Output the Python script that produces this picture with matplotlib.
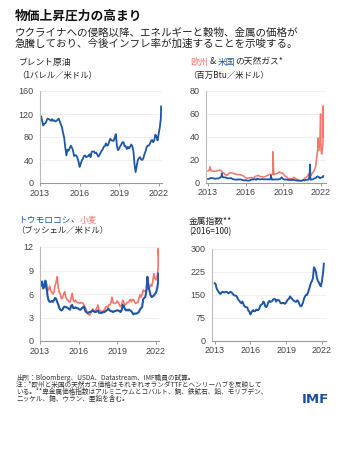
import numpy as np
import pandas as pd
import matplotlib
matplotlib.use("Agg")
import matplotlib.pyplot as plt

W, H = 346, 458
JP = ['Noto Sans CJK JP', 'DejaVu Sans']
NUM = ['Liberation Sans', 'Noto Sans CJK JP', 'DejaVu Sans']
plt.rcParams['font.family'] = JP

BLUE = '#1f56a5'
RED = '#f3766b'
TXT = '#222222'
TICK = '#444444'

# ---------------- data (monthly, 2013-01 .. 2022-03) ----------------
months = pd.date_range('2013-01-01', '2022-03-01', freq='MS')

brent = [113, 116, 108, 100, 103, 104, 108, 112, 111, 110, 108, 111,
         108, 109, 107, 108, 110, 112, 107, 102, 97, 87, 79, 62,
         48, 58, 56, 60, 65, 62, 57, 47, 48, 48, 44, 38,
         28, 33, 39, 42, 47, 48, 45, 46, 47, 50, 45, 54,
         55, 55, 52, 53, 50, 46, 48, 52, 56, 58, 63, 64,
         69, 65, 66, 72, 77, 74, 74, 73, 79, 85, 65, 57,
         60, 64, 67, 71, 71, 64, 64, 59, 63, 60, 63, 67,
         64, 55, 33, 19, 29, 40, 43, 45, 41, 40, 43, 50,
         55, 62, 65, 65, 68, 73, 75, 71, 74, 84, 81, 74,
         86, 97, 112]
brent_extra_dates = ['2022-03-08']
brent_extra = [133]

gas_eu = [10.2, 10.5, 14.0, 10.3, 10.2, 10.1, 10.0, 10.0, 10.1, 10.5, 10.8, 10.9,
          10.8, 10.0, 9.0, 8.5, 7.5, 7.0, 6.5, 6.8, 8.3, 8.5, 8.8, 8.6,
          8.0, 8.0, 7.7, 7.3, 7.2, 7.1, 7.2, 6.8, 6.6, 6.4, 5.8, 5.0,
          4.5, 3.8, 4.1, 4.2, 4.3, 4.5, 4.3, 4.0, 4.0, 5.3, 5.8, 6.0,
          6.4, 6.0, 5.2, 5.3, 5.2, 5.0, 5.2, 5.5, 6.0, 6.4, 6.9, 7.3,
          7.0, 7.3, 8.0, 7.0, 7.7, 7.7, 7.8, 8.5, 9.5, 9.0, 8.3, 8.5,
          7.5, 6.5, 5.5, 5.0, 4.3, 3.6, 3.6, 3.3, 3.5, 3.8, 4.7, 4.0,
          3.7, 3.0, 2.8, 2.2, 1.8, 1.9, 1.8, 2.8, 3.3, 4.5, 4.8, 5.7,
          7.5, 5.8, 6.2, 7.0, 8.8, 9.6, 11.9, 14.5, 22.5, 30.0, 28.0, 37.0,
          28.0, 27.0, 35.0]
gas_eu_extra_dates = ['2018-02-26', '2018-03-02', '2021-10-06', '2021-12-21',
                      '2022-01-20', '2022-03-07', '2022-03-10']
gas_eu_extra = [7.5, 27.0, 39.0, 60.0, 25.0, 67.0, 40.0]

gas_us = [3.3, 3.3, 3.8, 4.2, 4.0, 3.8, 3.6, 3.4, 3.6, 3.7, 3.6, 4.2,
          4.7, 6.0, 4.9, 4.7, 4.6, 4.6, 4.0, 3.9, 3.9, 3.8, 4.1, 3.5,
          3.0, 2.9, 2.8, 2.6, 2.8, 2.8, 2.8, 2.8, 2.7, 2.3, 2.1, 1.9,
          2.3, 2.0, 1.7, 1.9, 1.9, 2.6, 2.8, 2.8, 3.0, 3.0, 2.5, 3.6,
          3.3, 2.9, 2.9, 3.1, 3.2, 3.0, 3.0, 2.9, 3.0, 2.9, 3.0, 2.8,
          3.9, 2.7, 2.7, 2.8, 2.8, 2.9, 2.8, 2.9, 3.0, 3.3, 4.1, 4.0,
          3.1, 2.7, 2.9, 2.6, 2.6, 2.4, 2.4, 2.2, 2.6, 2.3, 2.6, 2.2,
          2.0, 1.9, 1.8, 1.7, 1.8, 1.6, 1.8, 2.3, 1.9, 2.4, 2.6, 2.6,
          2.7, 5.4, 2.6, 2.7, 2.9, 3.3, 3.9, 4.1, 5.2, 5.5, 5.0, 3.8,
          4.4, 4.7, 4.9]
gas_us_extra_dates = ['2014-02-06', '2018-01-03', '2018-11-15', '2021-02-17', '2022-03-08']
gas_us_extra = [8.0, 6.2, 4.7, 16.0, 5.8]

corn = [7.3, 7.1, 7.6, 6.7, 6.9, 7.7, 7.2, 5.8, 5.2, 5.0, 5.0, 5.1,
        5.0, 5.2, 5.5, 5.4, 5.0, 4.7, 4.2, 4.0, 3.9, 4.0, 4.3, 4.4,
        4.3, 4.3, 4.2, 4.1, 4.0, 4.5, 4.6, 4.2, 4.2, 4.3, 4.2, 4.2,
        4.1, 4.0, 4.0, 4.2, 4.3, 4.4, 3.9, 3.7, 3.6, 3.6, 3.7, 3.7,
        3.8, 3.9, 3.8, 3.7, 3.7, 3.8, 3.9, 3.6, 3.6, 3.6, 3.6, 3.7,
        3.7, 3.8, 3.9, 4.0, 4.1, 3.9, 3.8, 3.8, 3.7, 3.8, 3.8, 3.9,
        3.9, 3.9, 3.8, 3.7, 3.9, 4.6, 4.5, 4.1, 3.9, 4.0, 3.9, 4.0,
        3.9, 3.8, 3.6, 3.4, 3.5, 3.5, 3.5, 3.6, 3.7, 4.0, 4.2, 4.3,
        5.3, 5.5, 5.6, 6.3, 8.2, 7.0, 6.4, 5.8, 5.6, 5.7, 5.8, 6.0,
        6.2, 6.7, 7.5]
corn_extra_dates = ['2022-03-08']
corn_extra = [8.6]

wheat = [7.6, 7.3, 7.0, 6.9, 7.0, 7.0, 6.6, 6.4, 6.6, 7.0, 6.5, 6.2,
         6.0, 6.2, 7.0, 7.5, 8.2, 6.8, 6.2, 6.0, 5.4, 5.5, 6.0, 6.3,
         5.6, 5.3, 5.2, 5.0, 5.0, 5.5, 6.1, 5.2, 5.0, 5.2, 5.0, 4.9,
         4.9, 4.8, 4.9, 4.9, 4.8, 4.6, 4.3, 4.0, 3.6, 3.4, 3.3, 3.5,
         3.8, 4.1, 3.9, 3.8, 4.0, 4.2, 4.6, 3.9, 3.9, 3.8, 3.8, 3.8,
         4.0, 4.3, 4.4, 4.2, 4.6, 4.6, 4.8, 5.6, 4.9, 4.8, 4.8, 4.9,
         5.1, 4.9, 4.6, 4.4, 4.6, 5.2, 4.9, 4.6, 4.7, 4.9, 4.9, 5.1,
         5.3, 5.0, 5.3, 5.3, 5.0, 4.8, 4.9, 4.9, 5.4, 5.9, 5.6, 5.9,
         6.5, 6.4, 6.3, 6.5, 7.0, 6.6, 6.8, 7.2, 7.0, 7.6, 8.6, 8.0,
         7.8, 8.2, 9.3]
wheat_extra_dates = ['2022-03-07', '2022-03-10']
wheat_extra = [11.8, 10.9]

metals = [188, 185, 172, 165, 160, 155, 153, 158, 160, 158, 158, 160,
          160, 158, 155, 157, 160, 158, 155, 150, 148, 148, 146, 140,
          133, 130, 125, 123, 128, 120, 113, 110, 110, 108, 98, 95,
          86, 92, 98, 100, 96, 97, 102, 100, 100, 105, 115, 118,
          120, 128, 125, 112, 110, 115, 125, 130, 127, 128, 130, 135,
          137, 135, 128, 133, 133, 132, 125, 122, 123, 124, 122, 121,
          125, 132, 135, 138, 145, 140, 137, 133, 130, 128, 127, 132,
          130, 122, 115, 112, 117, 125, 138, 145, 150, 150, 158, 168,
          180, 190, 195, 205, 240, 235, 225, 205, 195, 190, 182, 178,
          195, 220, 252]

x_ticks = [2013, 2016, 2019, 2022]


def to_year(dates):
    d = pd.DatetimeIndex(dates)
    return d.year + (d.dayofyear - 1) / 365.25


def series(vals, extra_dates=(), extra_vals=()):
    t = np.concatenate([to_year(months), to_year(list(extra_dates))]) if len(extra_dates) else to_year(months)
    v = np.concatenate([np.asarray(vals, float), np.asarray(extra_vals, float)])
    o = np.argsort(t, kind='stable')
    return np.asarray(t)[o], v[o]


fig = plt.figure(figsize=(W / 100, H / 100), dpi=100)
fig.patch.set_facecolor('white')


def rect(l, t, r, b):
    return [l / W, 1 - b / H, (r - l) / W, (b - t) / H]


def style(ax, ylim, yticks, xlim):
    ax.set_xlim(*xlim)
    ax.set_ylim(*ylim)
    ax.set_yticks(yticks)
    ax.set_xticks(x_ticks)
    ax.set_xticklabels([str(v) for v in x_ticks])
    for s in ['top', 'right']:
        ax.spines[s].set_visible(False)
    ax.spines['left'].set_color('#bbbbbb')
    ax.spines['bottom'].set_color('#999999')
    ax.spines['left'].set_linewidth(0.8)
    ax.spines['bottom'].set_linewidth(0.8)
    ax.tick_params(axis='y', length=0, pad=4.5, labelsize=6.5, labelcolor=TICK)
    ax.tick_params(axis='x', length=2.5, width=0.7, color='#999999', pad=1.5,
                   labelsize=6.5, labelcolor=TICK)
    for lab in ax.get_xticklabels() + ax.get_yticklabels():
        lab.set_family(NUM)
    ax.grid(axis='y', color='#eeeeee', linewidth=0.6)
    ax.set_axisbelow(True)


# Panel 1: Brent
ax1 = fig.add_axes(rect(40, 91, 162, 183))
t, v = series(brent, brent_extra_dates, brent_extra)
ax1.plot(t, v, color=BLUE, lw=1.3)
style(ax1, (0, 160), [0, 40, 80, 120, 160], (2013.0, 2022.25))

# Panel 2: natural gas
ax2 = fig.add_axes(rect(206, 91, 326, 182.7))
t, v = series(gas_eu, gas_eu_extra_dates, gas_eu_extra)
ax2.plot(t, v, color=RED, lw=1.1)
t, v = series(gas_us, gas_us_extra_dates, gas_us_extra)
ax2.plot(t, v, color=BLUE, lw=1.3)
style(ax2, (0, 80), [0, 20, 40, 60, 80], (2012.84, 2022.4))

# Panel 3: corn & wheat
ax3 = fig.add_axes(rect(40, 247, 159, 341))
t, v = series(wheat, wheat_extra_dates, wheat_extra)
ax3.plot(t, v, color=RED, lw=1.2)
t, v = series(corn, corn_extra_dates, corn_extra)
ax3.plot(t, v, color=BLUE, lw=1.5)
style(ax3, (0, 12), [0, 3, 6, 9, 12], (2013.0, 2022.23))

# Panel 4: metals
ax4 = fig.add_axes(rect(212, 249, 326, 340.7))
t, v = series(metals)
ax4.plot(t, v, color=BLUE, lw=1.4)
style(ax4, (0, 300), [0, 75, 150, 225, 300], (2012.78, 2022.34))

# ---------------- text ----------------
renderer = fig.canvas.get_renderer()


def ftext(x, y, s, size, color=TXT, weight='normal', family=JP, ha='left'):
    return fig.text(x / W, 1 - y / H, s, fontsize=size, color=color,
                    fontweight=weight, family=family, ha=ha, va='center')


def multicolor(x, y, parts, size):
    cx = x
    for s, c in parts:
        t = ftext(cx, y, s, size, color=c)
        bb = t.get_window_extent(renderer)
        cx += bb.width


ftext(15, 16, '物価上昇圧力の高まり', 9.2, color='#111111', weight='bold')
ftext(15, 33, 'ウクライナへの侵略以降、エネルギーと穀物、金属の価格が', 7.6)
ftext(15, 44, '急騰しており、今後インフレ率が加速することを示唆する。', 7.6)

ftext(18.5, 62.3, 'ブレント原油', 6.3)
ftext(17, 75.7, '（1バレル／米ドル）', 6.0)

multicolor(190.5, 62, [('欧州', RED), (' & ', TXT), ('米国', BLUE), ('の天然ガス*', TXT)], 6.3)
ftext(188.5, 75.7, '（百万Btu／米ドル）', 6.0)

multicolor(18, 220, [('トウモロコシ', BLUE), ('、', TXT), ('小麦', RED)], 6.3)
ftext(16, 230.7, '（ブッシェル／米ドル）', 6.0)

ftext(189, 221, '金属指数**', 6.3)
ftext(189, 231.7, '(2016=100)', 6.0)

foot = ['出所：Bloomberg、USDA、Datastream、IMF職員の試算。',
        '注：*欧州と米国の天然ガス価格はそれぞれオランダTTFとヘンリーハブを反映して',
        'いる。**卑金属価格指数はアルミニウムとコバルト、銅、鉄鉱石、鉛、モリブデン、',
        'ニッケル、錫、ウラン、亜鉛を含む。']
for i, line in enumerate(foot):
    ftext(16, 378.3 + i * 6.9, line, 4.8, color='#333333')

ftext(315, 399.5, 'IMF', 9.5, color='#1c4f9c', weight='bold',
      family=['DejaVu Sans'], ha='center')

fig.savefig('out.png', dpi=100, facecolor='white')
